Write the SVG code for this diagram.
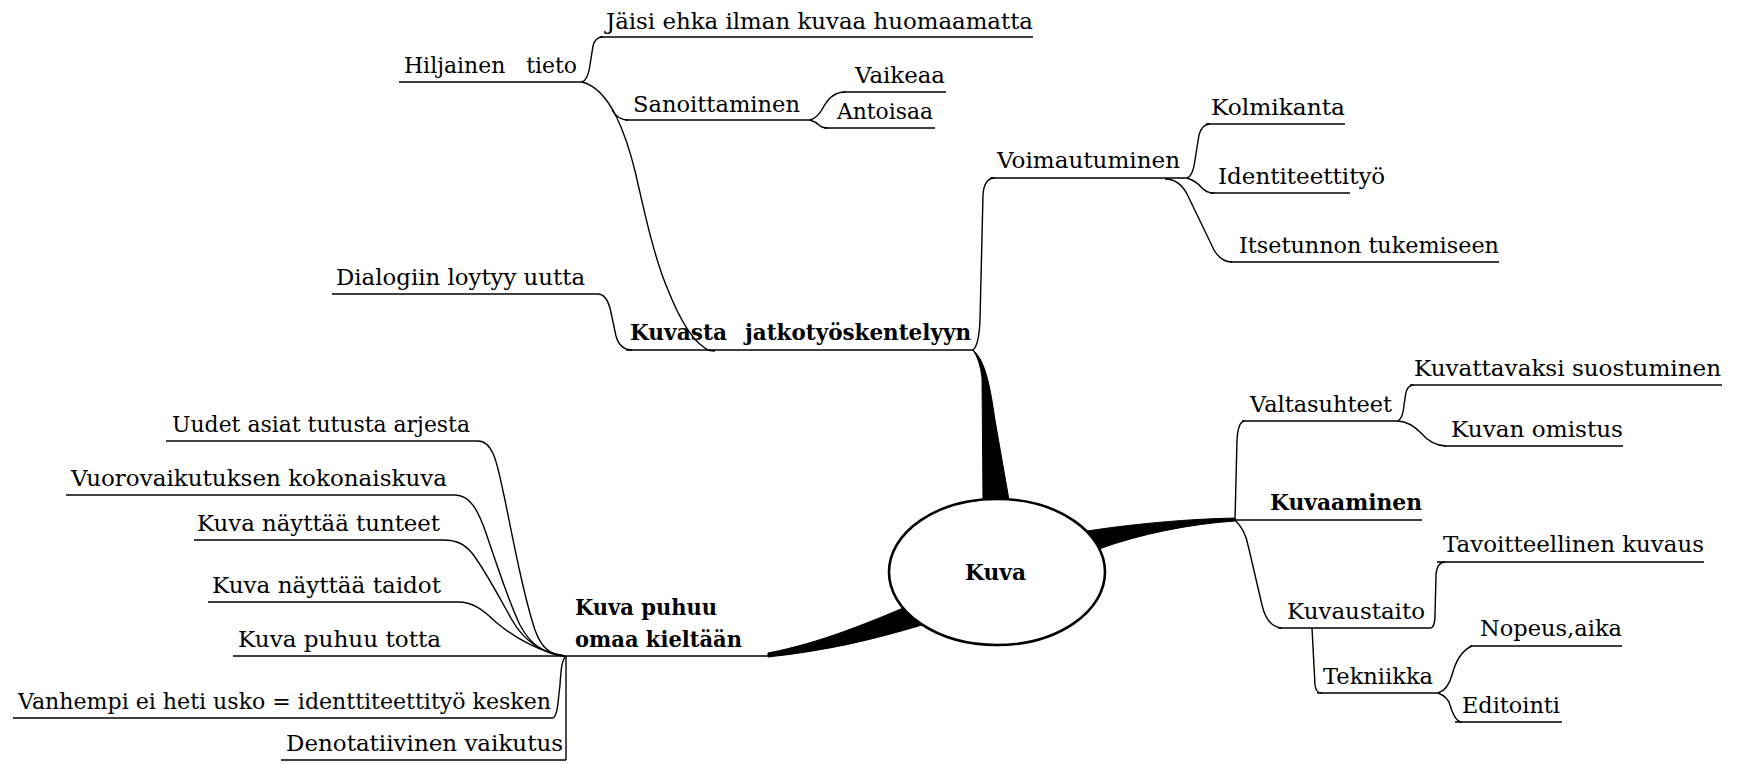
<svg xmlns="http://www.w3.org/2000/svg" width="1738" height="764" viewBox="0 0 1738 764">
<style>
.ln{fill:none;stroke:#000;stroke-width:1.4}
.ul{fill:none;stroke:#000;stroke-width:1.6}
.tp{fill:#000;stroke:#000;stroke-width:1}
text{font-family:"DejaVu Serif","Liberation Serif",serif;font-size:23px;fill:#000}
text.b{font-weight:bold;font-size:21.5px}
</style>
<rect width="1738" height="764" fill="#fff"/>
<g id="connectors">
  <path class="tp" d="M973,350 C985,360 990,385 995,420 L1009,500 L983,500 L982,378 Q980,360 973,350 Z"/>
  <path class="tp" d="M1087,531 C1140,523 1190,519 1235,518 L1235,521 C1190,524 1140,534 1099,549 Z"/>
  <path class="tp" d="M908,606 C870,622 820,643 768,653 L768,657 C825,651 872,640 922,625 Z"/>
  <path class="ln" d="M582,82 Q588,80 590,65 L593,46 Q595,37 603,37"/>
  <path class="ln" d="M582,82 C598,86 608,100 616,116 C624,132 630,150 636,175 C645,215 655,260 668,290 C680,320 692,340 705,348 Q708,351 715,351"/>
  <path class="ln" d="M612,110 Q618,120 628,120"/>
  <path class="ln" d="M810,120 Q818,118 824,106 Q832,92 845,92"/>
  <path class="ln" d="M810,120 Q816,122 819,125 Q822,128 828,128"/>
  <path class="ln" d="M598,294 Q606,294 610,308 L616,336 Q620,350 632,350"/>
  <path class="ln" d="M973,350 Q979,345 980,320 L983,195 Q984,178 995,178"/>
  <path class="ln" d="M1187,178 Q1193,176 1195,160 L1199,135 Q1202,124 1210,124"/>
  <path class="ln" d="M1187,178 Q1196,181 1201,187 Q1206,193 1214,193"/>
  <path class="ln" d="M1165,179 Q1180,179 1188,196 L1214,250 Q1221,262 1232,262"/>
  <path class="ln" d="M1235,520 L1237,440 Q1238,421 1245,421"/>
  <path class="ln" d="M1398,421 Q1403,418 1404,405 L1406,392 Q1408,385 1414,385"/>
  <path class="ln" d="M1398,421 Q1410,422 1420,432 Q1432,446 1446,446"/>
  <path class="ln" d="M1235,520 Q1245,530 1248,545 L1262,605 Q1267,627 1282,628"/>
  <path class="ln" d="M1430,628 Q1435,628 1435,615 L1436,575 Q1437,562 1445,562"/>
  <path class="ln" d="M1312,628 L1315,685 Q1316,693 1322,693"/>
  <path class="ln" d="M1438,693 Q1448,690 1452,675 Q1458,652 1472,646"/>
  <path class="ln" d="M1438,693 Q1448,697 1450,705 Q1455,722 1462,722"/>
  <path class="ln" d="M478,441 C495,441 498,470 505,500 C515,550 525,600 535,630 C542,650 552,655 565,656"/>
  <path class="ln" d="M455,495 C470,495 478,510 486,533 C498,568 508,600 520,625 C532,648 548,655 565,656"/>
  <path class="ln" d="M443,540 C458,540 465,545 472,553 C485,570 498,595 512,620 C525,643 545,654 565,656"/>
  <path class="ln" d="M458,602 C475,602 485,612 497,623 C515,638 540,652 565,656"/>
  <path class="ln" d="M553,718 C558,715 558,700 560,685 C561,668 562,660 566,656"/>
  <path class="ln" d="M566,656 L566,760"/>
</g>
<g id="kuva">
  <ellipse cx="997" cy="572" rx="108" ry="73" fill="#fff" stroke="#000" stroke-width="2.6"/>
  <text class="b" x="965" y="580" textLength="61" lengthAdjust="spacingAndGlyphs">Kuva</text>
</g>
<g id="kuvasta">
  <path class="ul" d="M626,350 L973,350"/>
  <text class="b" y="340"><tspan x="630" textLength="97" lengthAdjust="spacingAndGlyphs">Kuvasta</tspan> <tspan x="745" textLength="226" lengthAdjust="spacingAndGlyphs">jatkotyöskentelyyn</tspan></text>
</g>
<g id="hiljainen">
  <path class="ul" d="M399,82 L582,82"/>
  <text x="404" y="73" xml:space="preserve" textLength="173" lengthAdjust="spacingAndGlyphs">Hiljainen   tieto</text>
</g>
<g id="jaisi">
  <path class="ul" d="M600,37 L1033,37"/>
  <text x="606" y="29" textLength="427" lengthAdjust="spacingAndGlyphs">Jäisi ehka ilman kuvaa huomaamatta</text>
</g>
<g id="sanoittaminen">
  <path class="ul" d="M625,120 L810,120"/>
  <text x="633" y="112" textLength="167" lengthAdjust="spacingAndGlyphs">Sanoittaminen</text>
</g>
<g id="vaikeaa">
  <path class="ul" d="M843,92 L946,92"/>
  <text x="855" y="83" textLength="90" lengthAdjust="spacingAndGlyphs">Vaikeaa</text>
</g>
<g id="antoisaa">
  <path class="ul" d="M824,128 L935,128"/>
  <text x="837" y="119" textLength="96" lengthAdjust="spacingAndGlyphs">Antoisaa</text>
</g>
<g id="dialogiin">
  <path class="ul" d="M332,294 L598,294"/>
  <text x="336" y="285" textLength="249" lengthAdjust="spacingAndGlyphs">Dialogiin loytyy uutta</text>
</g>
<g id="voimautuminen">
  <path class="ul" d="M990,178 L1187,178"/>
  <text x="997" y="168" textLength="183" lengthAdjust="spacingAndGlyphs">Voimautuminen</text>
</g>
<g id="kolmikanta">
  <path class="ul" d="M1206,124 L1345,124"/>
  <text x="1211" y="115" textLength="134" lengthAdjust="spacingAndGlyphs">Kolmikanta</text>
</g>
<g id="identiteettityo">
  <path class="ul" d="M1210,193 L1350,193"/>
  <text x="1218" y="184">Identiteettityö</text>
</g>
<g id="itsetunnon">
  <path class="ul" d="M1230,262 L1499,262"/>
  <text x="1239" y="253" textLength="260" lengthAdjust="spacingAndGlyphs">Itsetunnon tukemiseen</text>
</g>
<g id="kuvaaminen">
  <path class="ul" d="M1234,520 L1422,520"/>
  <text class="b" x="1270" y="510" textLength="152" lengthAdjust="spacingAndGlyphs">Kuvaaminen</text>
</g>
<g id="valtasuhteet">
  <path class="ul" d="M1242,421 L1398,421"/>
  <text x="1250" y="412" textLength="142" lengthAdjust="spacingAndGlyphs">Valtasuhteet</text>
</g>
<g id="kuvattavaksi">
  <path class="ul" d="M1410,385 L1722,385"/>
  <text x="1414" y="376" textLength="307" lengthAdjust="spacingAndGlyphs">Kuvattavaksi suostuminen</text>
</g>
<g id="kuvan-omistus">
  <path class="ul" d="M1444,446 L1623,446"/>
  <text x="1451" y="437" textLength="172" lengthAdjust="spacingAndGlyphs">Kuvan omistus</text>
</g>
<g id="kuvaustaito">
  <path class="ul" d="M1278,628 L1430,628"/>
  <text x="1287" y="619" textLength="138" lengthAdjust="spacingAndGlyphs">Kuvaustaito</text>
</g>
<g id="tavoitteellinen">
  <path class="ul" d="M1437,562 L1704,562"/>
  <text x="1443" y="552" textLength="261" lengthAdjust="spacingAndGlyphs">Tavoitteellinen kuvaus</text>
</g>
<g id="tekniikka">
  <path class="ul" d="M1317,693 L1438,693"/>
  <text x="1323" y="684" textLength="110" lengthAdjust="spacingAndGlyphs">Tekniikka</text>
</g>
<g id="nopeus">
  <path class="ul" d="M1470,646 L1622,646"/>
  <text x="1480" y="636" textLength="142" lengthAdjust="spacingAndGlyphs">Nopeus,aika</text>
</g>
<g id="editointi">
  <path class="ul" d="M1455,722 L1562,722"/>
  <text x="1462" y="713" textLength="98" lengthAdjust="spacingAndGlyphs">Editointi</text>
</g>
<g id="kuva-puhuu">
  <path class="ul" d="M566,656 L770,656"/>
  <text class="b" x="575" y="615" textLength="142" lengthAdjust="spacingAndGlyphs">Kuva puhuu</text>
  <text class="b" x="575" y="647" textLength="167" lengthAdjust="spacingAndGlyphs">omaa kieltään</text>
</g>
<g id="uudet">
  <path class="ul" d="M166,441 L478,441"/>
  <text x="172" y="432" textLength="298" lengthAdjust="spacingAndGlyphs">Uudet asiat tutusta arjesta</text>
</g>
<g id="vuorovaikutuksen">
  <path class="ul" d="M66,495 L455,495"/>
  <text x="71" y="486" textLength="376" lengthAdjust="spacingAndGlyphs">Vuorovaikutuksen kokonaiskuva</text>
</g>
<g id="tunteet">
  <path class="ul" d="M194,540 L443,540"/>
  <text x="197" y="531" textLength="243" lengthAdjust="spacingAndGlyphs">Kuva näyttää tunteet</text>
</g>
<g id="taidot">
  <path class="ul" d="M208,602 L458,602"/>
  <text x="212" y="593" textLength="229" lengthAdjust="spacingAndGlyphs">Kuva näyttää taidot</text>
</g>
<g id="totta">
  <path class="ul" d="M233,656 L566,656"/>
  <text x="238" y="647" textLength="203" lengthAdjust="spacingAndGlyphs">Kuva puhuu totta</text>
</g>
<g id="vanhempi">
  <path class="ul" d="M13,718 L553,718"/>
  <text x="18" y="709" textLength="533" lengthAdjust="spacingAndGlyphs">Vanhempi ei heti usko = identtiteettityö kesken</text>
</g>
<g id="denotatiivinen">
  <path class="ul" d="M281,760 L566,760"/>
  <text x="286" y="751" textLength="277" lengthAdjust="spacingAndGlyphs">Denotatiivinen vaikutus</text>
</g>
</svg>
